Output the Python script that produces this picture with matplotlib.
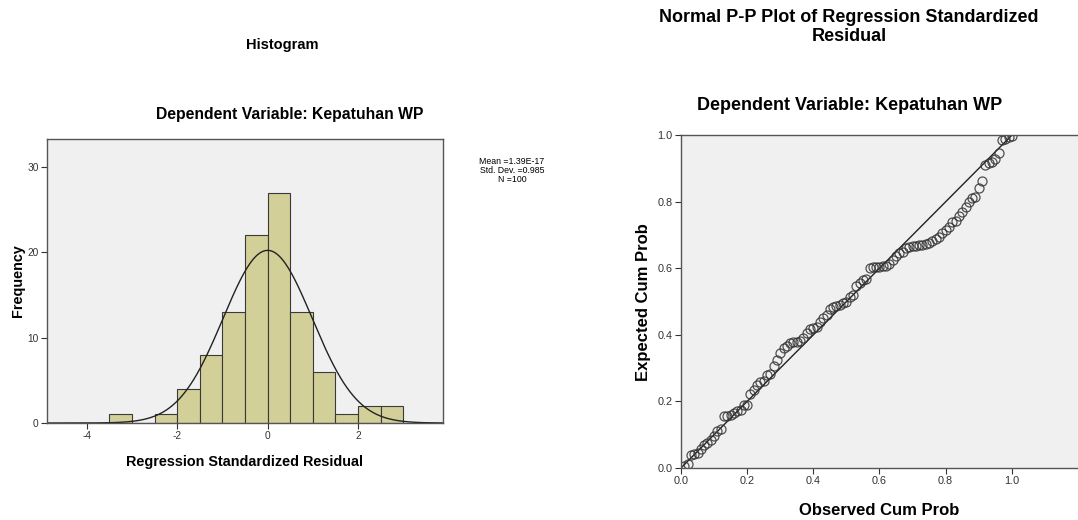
import numpy as np
import matplotlib
matplotlib.use("Agg")
import matplotlib.pyplot as plt

plt.rcParams['font.family'] = ['Liberation Sans', 'DejaVu Sans']

# histogram of standardized residuals (bin left edges, width 0.5)
bin_left = [-3.5, -3.0, -2.5, -2.0, -1.5, -1.0, -0.5, 0.0, 0.5, 1.0, 1.5, 2.0, 2.5]
counts = [1, 0, 1, 4, 8, 13, 22, 27, 13, 6, 1, 2, 2]
bin_width = 0.5
res_mean = 1.39e-17
res_sd = 0.985
n_obs = 100

# P-P plot: expected cum prob for each observed cum prob i/100
observed = [i / 100 for i in range(1, 101)]
expected = [
    0.005, 0.012, 0.038, 0.042, 0.045, 0.058, 0.068, 0.075, 0.085, 0.095,
    0.112, 0.118, 0.155, 0.157, 0.160, 0.165, 0.170, 0.173, 0.188, 0.190,
    0.222, 0.235, 0.248, 0.258, 0.262, 0.278, 0.282, 0.305, 0.325, 0.345,
    0.362, 0.368, 0.375, 0.378, 0.380, 0.383, 0.392, 0.405, 0.418, 0.422,
    0.425, 0.438, 0.452, 0.460, 0.478, 0.483, 0.486, 0.490, 0.495, 0.500,
    0.515, 0.520, 0.548, 0.557, 0.565, 0.568, 0.600, 0.603, 0.604, 0.605,
    0.606, 0.608, 0.612, 0.624, 0.637, 0.645, 0.650, 0.660, 0.665, 0.667,
    0.668, 0.669, 0.670, 0.672, 0.676, 0.683, 0.688, 0.695, 0.705, 0.715,
    0.725, 0.738, 0.742, 0.758, 0.768, 0.785, 0.800, 0.812, 0.815, 0.840,
    0.862, 0.910, 0.915, 0.920, 0.927, 0.948, 0.985, 0.990, 0.995, 0.998,
]

panel = '#f0f0f0'
frame = '#555555'

fig = plt.figure(figsize=(10.78, 5.20), dpi=100)

# ---- histogram ----
ax1 = fig.add_axes([0.0436, 0.1865, 0.367, 0.546])
ax1.set_facecolor(panel)
ax1.bar(bin_left, counts, width=bin_width, align='edge',
        color='#d3cf98', edgecolor='#3a3a3a', linewidth=0.8)
xs = np.linspace(-4.9, 3.9, 400)
curve = n_obs * bin_width / (res_sd * np.sqrt(2 * np.pi)) * np.exp(-0.5 * ((xs - res_mean) / res_sd) ** 2)
ax1.plot(xs, curve, color='#222222', linewidth=1.0)
ax1.set_xlim(-4.88, 3.87)
ax1.set_ylim(0, 33.3)
ax1.set_xticks([-4, -2, 0, 2])
ax1.set_xticklabels(['-4', '-2', '0', '2'])
ax1.set_yticks([0, 10, 20, 30])
ax1.tick_params(labelsize=7.3, colors='#333333', length=4, width=0.8, pad=2)
for s in ax1.spines.values():
    s.set_color(frame)
    s.set_linewidth(1.0)
ax1.set_xlabel('Regression Standardized Residual', fontsize=10.4, fontweight='bold', labelpad=10)
ax1.set_ylabel('Frequency', fontsize=10.4, fontweight='bold', labelpad=2)

fig.text(282 / 1078, 1 - 45 / 520, 'Histogram', ha='center', va='center',
         fontsize=10.5, fontweight='bold')
fig.text(290 / 1078, 1 - 114 / 520, 'Dependent Variable: Kepatuhan WP', ha='center',
         va='center', fontsize=11.3, fontweight='bold')
fig.text(512 / 1078, 1 - 171 / 520,
         f'Mean ={res_mean:.2E}\nStd. Dev. ={res_sd}\nN ={n_obs}',
         ha='center', va='center', multialignment='center',
         fontsize=6.3, linespacing=1.0)

# ---- P-P plot ----
ax2 = fig.add_axes([0.6317, 0.1, 0.3683, 0.640])
ax2.set_facecolor(panel)
ax2.plot([0, 1], [0, 1], color='#222222', linewidth=1.0)
ax2.plot(observed, expected, linestyle='none', marker='o', markersize=6.5,
         markerfacecolor='none', markeredgecolor='#333333', markeredgewidth=0.9, alpha=0.85)
ax2.set_xlim(0, 1.2)
ax2.set_ylim(0, 1.0)
ax2.set_xticks([0, 0.2, 0.4, 0.6, 0.8, 1.0])
ax2.set_yticks([0, 0.2, 0.4, 0.6, 0.8, 1.0])
ax2.xaxis.set_major_formatter(plt.FormatStrFormatter('%.1f'))
ax2.yaxis.set_major_formatter(plt.FormatStrFormatter('%.1f'))
ax2.tick_params(labelsize=7.8, colors='#333333', length=4, width=0.8, pad=2)
for s in ax2.spines.values():
    s.set_color(frame)
    s.set_linewidth(1.0)
ax2.spines['right'].set_visible(False)
ax2.set_xlabel('Observed Cum Prob', fontsize=12, fontweight='bold', labelpad=12)
ax2.set_ylabel('Expected Cum Prob', fontsize=12, fontweight='bold', labelpad=5)

fig.text(849 / 1078, 1 - 27 / 520, 'Normal P-P Plot of Regression Standardized\nResidual',
         ha='center', va='center', fontsize=13, fontweight='bold', linespacing=1.15)
fig.text(850 / 1078, 1 - 106 / 520, 'Dependent Variable: Kepatuhan WP', ha='center',
         va='center', fontsize=13, fontweight='bold')

fig.savefig('out.png', dpi=100, facecolor='white')
